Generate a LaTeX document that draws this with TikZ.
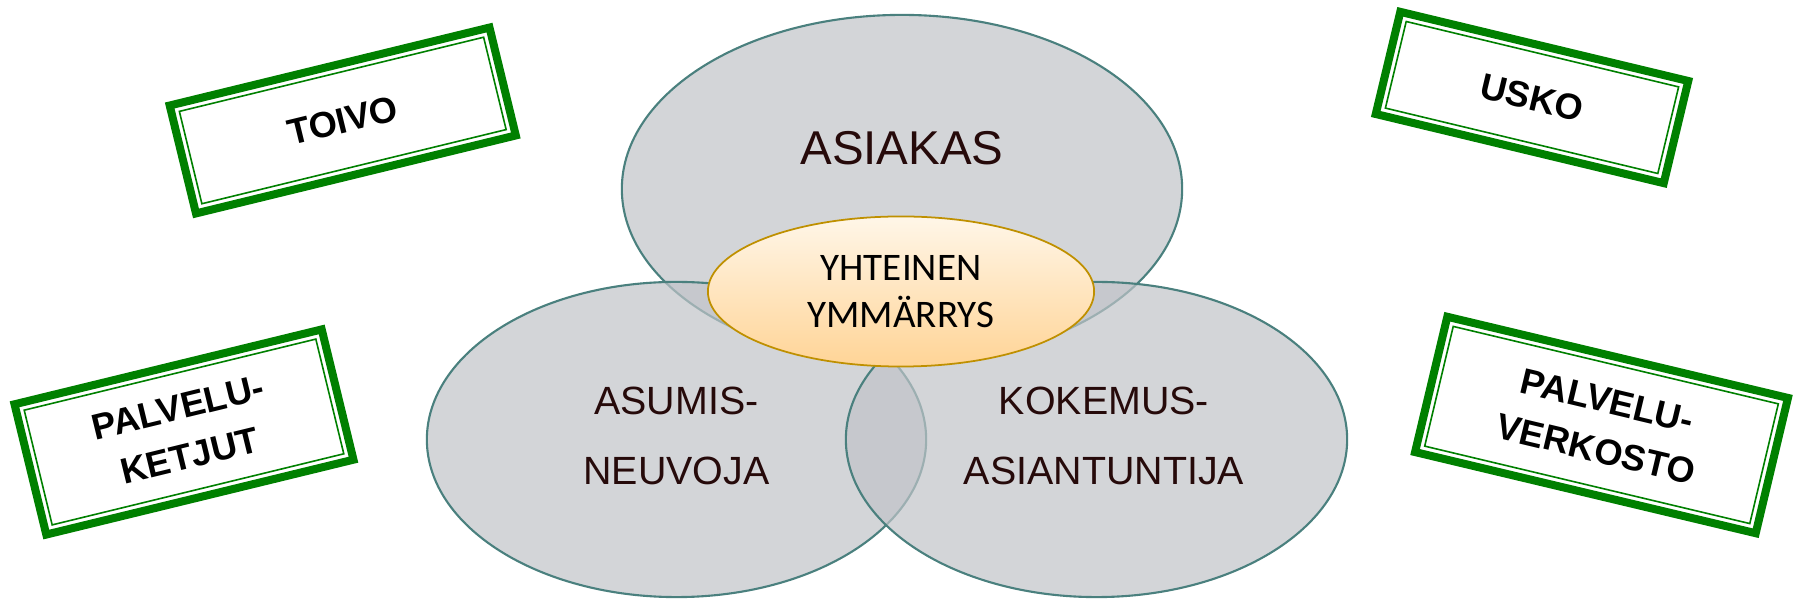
\documentclass[tikz,border=0pt]{standalone}
\usepackage{fontspec}
\newfontfamily\arialfont{Liberation Sans}
\newfontfamily\calibrifont{Carlito}
\usetikzlibrary{shapes.geometric}

\definecolor{stampgreen}{RGB}{0,128,0}
\definecolor{ellgray}{RGB}{192,195,200}
\definecolor{elledge}{RGB}{74,128,126}
\definecolor{labelbrown}{RGB}{38,10,10}
\definecolor{creamtop}{RGB}{255,246,232}
\definecolor{peachbottom}{RGB}{255,212,150}
\definecolor{golden}{RGB}{191,144,0}

\tikzset{
  bigoval/.style={ellipse, draw=elledge, line width=0.6pt, fill=ellgray, fill opacity=0.7, inner sep=0pt},
  ovallabel/.style={text=labelbrown, align=center, inner sep=0pt,
    font=\arialfont\fontsize{11.2}{19.9}\selectfont},
  stamp/.style={draw=stampgreen, line width=0.08cm, fill=white, inner sep=0pt, align=center,
    font=\arialfont\bfseries\fontsize{10.3}{14.2}\selectfont},
  stampin/.style={draw=stampgreen, line width=0.016cm, inner sep=0pt},
}

\begin{document}
\begin{tikzpicture}[x=0.01cm,y=-0.01cm]
\useasboundingbox (0,0) rectangle (1797,604);

% OVALS
\node(asiakas)[bigoval, minimum width=5.6cm, minimum height=3.48cm] at (902,189) {};
\node(asumis)[bigoval, minimum width=4.99cm, minimum height=3.15cm] at (676.5,439.5) {};
\node(kokemus)[bigoval, minimum width=5.01cm, minimum height=3.15cm] at (1096.5,439.5) {};

% labels
\node(asiakaslabel)[ovallabel, font=\arialfont\fontsize{13.5}{16}\selectfont] at (902,148) {ASIAKAS};
\node(asumislabel)[ovallabel] at (676.5,436) {ASUMIS-\\NEUVOJA};
\node(kokemuslabel)[ovallabel] at (1104,436) {KOKEMUS-\\ASIANTUNTIJA};

% CENTRE
\node(yhteinen)[ellipse, draw=golden, line width=0.5pt,
			top color=creamtop, bottom color=peachbottom,
			minimum width=3.86cm, minimum height=1.5cm,
			inner sep=0pt, align=center,
			font=\calibrifont\fontsize{11.1}{13.3}\selectfont] at (901,291.5) {YHTEINEN\\YMMÄRRYS};

% STAMPS
%top left
\node(toivo)[stamp, minimum width=3.29cm, minimum height=1.11cm, rotate=13.7] at (342.75,120.5) {TOIVO};
\node(toivoin)[stampin, minimum width=3.13cm, minimum height=0.95cm, rotate=13.7] at (toivo.center) {};

%top right
\node(usko)[stamp, minimum width=2.96cm, minimum height=1.05cm, rotate=-13.5] at (1532,97.5) {USKO};
\node(uskoin)[stampin, minimum width=2.80cm, minimum height=0.89cm, rotate=-13.5] at (usko.center) {};

%bottom left
\node(ketjut)[stamp, minimum width=3.16cm, minimum height=1.34cm, rotate=13.7] at (184,432) {PALVELU-\\KETJUT};
\node(ketjutin)[stampin, minimum width=3.00cm, minimum height=1.18cm, rotate=13.7] at (ketjut.center) {};

%bottom right
\node(verkosto)[stamp, minimum width=3.50cm, minimum height=1.39cm, rotate=-13.4] at (1601.5,425) {PALVELU-\\VERKOSTO};
\node(verkostoin)[stampin, minimum width=3.34cm, minimum height=1.23cm, rotate=-13.4] at (verkosto.center) {};

\end{tikzpicture}
\end{document}
